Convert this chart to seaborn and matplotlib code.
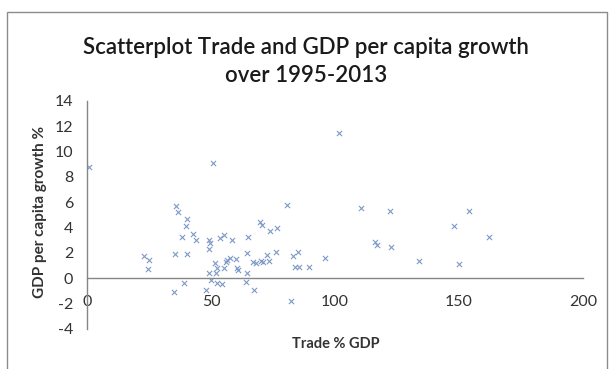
import matplotlib
matplotlib.use("Agg")
import matplotlib.pyplot as plt
import matplotlib.patches as mpatches
import seaborn as sns
import pandas as pd

# Trade openness (% of GDP) per country
trade_pct_gdp = [
    0.8, 23.0, 25.0, 24.6, 35.9, 36.8, 40.2, 39.8, 38.4, 42.9,
    43.9, 35.5, 40.2, 35.2, 39.0, 49.3, 49.5, 49.3, 53.6, 55.1,
    58.4, 64.8, 64.6, 51.5, 52.3, 56.0, 56.6, 57.7, 60.1, 55.4,
    60.4, 61.0, 64.4, 49.2, 52.0, 50.0, 52.3, 54.6, 64.1, 47.9,
    50.9, 101.6, 80.8, 110.5, 69.9, 70.7, 73.8, 76.7, 76.1, 83.2,
    85.2, 96.0, 83.9, 85.6, 89.4, 67.1, 68.0, 70.0, 71.0, 72.5,
    73.5, 67.3, 82.4, 116.0, 116.8, 122.2, 122.6, 134.0, 148.0, 154.2,
    162.1, 150.1,
]
# Average GDP per capita growth (%) over 1995-2013
gdp_pc_growth = [
    8.8, 1.8, 1.45, 0.75, 5.75, 5.2, 4.7, 4.1, 3.3, 3.5,
    3.0, 1.9, 1.9, -1.1, -0.4, 3.0, 2.8, 2.3, 3.15, 3.45,
    3.0, 3.3, 2.0, 1.2, 0.85, 1.3, 1.45, 1.6, 1.55, 0.85,
    0.8, 0.65, 0.45, 0.4, 0.4, -0.1, -0.35, -0.45, -0.25, -0.95,
    9.1, 11.5, 5.8, 5.55, 4.45, 4.25, 3.7, 4.0, 2.05, 1.75,
    2.05, 1.6, 0.9, 0.9, 0.9, 1.3, 1.2, 1.4, 1.3, 1.85,
    1.35, -0.95, -1.8, 2.9, 2.65, 5.35, 2.5, 1.35, 4.15, 5.3,
    3.3, 1.15,
]
x_ticks = [0, 50, 100, 150, 200]
y_ticks = [-4, -2, 0, 2, 4, 6, 8, 10, 12, 14]

df = pd.DataFrame({"trade": trade_pct_gdp, "growth": gdp_pc_growth})

sns.set_theme(style="white")
plt.rcParams["font.family"] = ["Lato", "DejaVu Sans"]

fig = plt.figure(figsize=(6.09, 3.69), dpi=100)
ax = fig.add_axes([87 / 609, 1 - 329 / 369, 496 / 609, 228 / 369])

sns.scatterplot(data=df, x="trade", y="growth", ax=ax, marker="x",
                color="#7d99c6", s=14, linewidth=0.8, legend=False)

ax.set_xlim(0, 200)
ax.set_ylim(-4, 14)
ax.set_xticks(x_ticks)
ax.set_yticks(y_ticks)
ax.set_xticklabels([str(t) for t in x_ticks])
ax.set_yticklabels([str(t) for t in y_ticks])

for side in ("top", "right"):
    ax.spines[side].set_visible(False)
ax.spines["left"].set_color("#868686")
ax.spines["left"].set_linewidth(1.0)
ax.spines["bottom"].set_position(("data", 0))
ax.spines["bottom"].set_color("#868686")
ax.spines["bottom"].set_linewidth(1.0)

ax.tick_params(axis="x", length=0, pad=12, labelsize=11.5, labelcolor="#333333")
ax.tick_params(axis="y", length=0, pad=10, labelsize=11.5, labelcolor="#333333")

ax.set_xlabel("")
ax.set_ylabel("")
fig.text(336 / 609, 1 - 344 / 369, "Trade % GDP", ha="center", va="center",
         fontsize=10.5, fontweight="bold", color="#333333")
fig.text(40 / 609, 1 - 212 / 369, "GDP per capita growth %", ha="center",
         va="center", rotation=90, fontsize=11, fontweight="bold",
         color="#333333")

fig.text(306 / 609, 1 - 47 / 369, "Scatterplot Trade and GDP per capita growth",
         ha="center", va="center", fontsize=16, fontweight="semibold",
         color="#1a1a1a")
fig.text(306 / 609, 1 - 76 / 369, "over 1995-2013",
         ha="center", va="center", fontsize=16, fontweight="semibold",
         color="#1a1a1a")

# chart-area frame
frame = mpatches.Rectangle((7 / 609, -0.2), 600 / 609, 1.2 - 12 / 369,
                           transform=fig.transFigure, fill=False,
                           edgecolor="#8c8c8c", linewidth=1.0, clip_on=False)
fig.patches.append(frame)

fig.savefig("out.png", dpi=100)
